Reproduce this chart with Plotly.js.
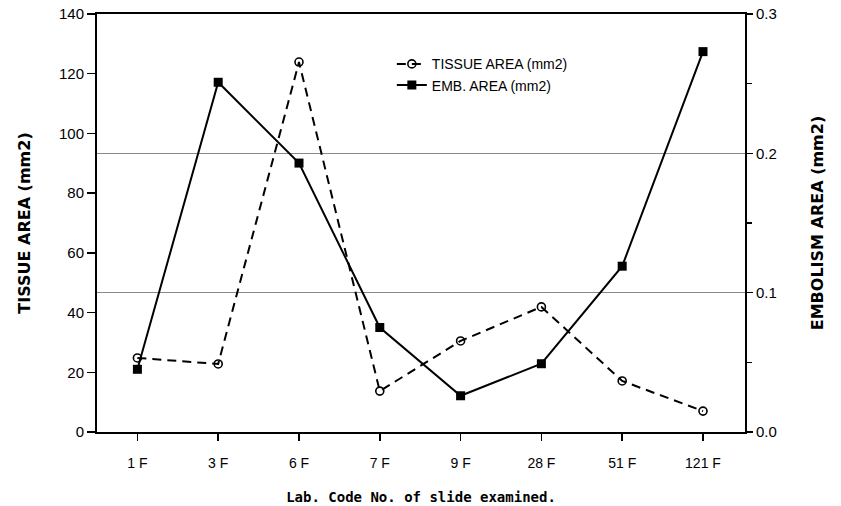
<!DOCTYPE html>
<html>
<head>
<meta charset="utf-8">
<script src="https://cdn.plot.ly/plotly-3.0.1.min.js"></script>
<style>html,body{margin:0;padding:0;background:#fff;}#chart{width:841px;height:506px;}</style>
</head>
<body>
<div id="chart"></div>
<script>
var categories = ["1 F", "3 F", "6 F", "7 F", "9 F", "28 F", "51 F", "121 F"];
var tissueArea = [24.8, 22.8, 123.9, 13.7, 30.5, 41.9, 17.1, 7.0];
var embArea = [0.045, 0.251, 0.193, 0.075, 0.026, 0.049, 0.119, 0.273];
var leftTicks = [0, 20, 40, 60, 80, 100, 120, 140];

var tickFont = {family: "Liberation Sans, Arial, sans-serif", size: 15, color: "#000"};
var titleFont = {family: "DejaVu Sans, sans-serif", size: 16, color: "#000", weight: "bold"};

var traces = [
  {
    x: categories, y: tissueArea, name: "TISSUE AREA (mm2)",
    type: "scatter", mode: "lines+markers", yaxis: "y",
    line: {color: "#000", width: 2, dash: "9px,6px"},
    marker: {symbol: "circle-open", size: 8, color: "#000", line: {width: 1.6, color: "#000"}}
  },
  {
    x: categories, y: embArea, name: "EMB. AREA (mm2)",
    type: "scatter", mode: "lines+markers", yaxis: "y2",
    line: {color: "#000", width: 2},
    marker: {symbol: "square", size: 9, color: "#000"}
  }
];

var layout = {
  width: 841, height: 506,
  margin: {l: 97, r: 96, t: 14, b: 74},
  paper_bgcolor: "#fff", plot_bgcolor: "#fff",
  showlegend: true,
  legend: {
    x: 0.455, y: 0.918, xanchor: "left", yanchor: "top",
    font: {family: "Liberation Sans, Arial, sans-serif", size: 14, color: "#000"},
    bgcolor: "rgba(0,0,0,0)", tracegroupgap: 0
  },
  xaxis: {
    type: "category", range: [-0.5, 7.52],
    showline: true, linecolor: "#000", linewidth: 2, mirror: true,
    ticks: "outside", ticklen: 7, tickwidth: 1.5, tickcolor: "#000",
    ticklabelstandoff: 10,
    showgrid: false, zeroline: false,
    tickfont: {family: "Liberation Sans, Arial, sans-serif", size: 14, color: "#000"},
    title: {text: "Lab. Code No. of slide examined.", font: {family: "DejaVu Sans Mono, monospace", size: 14, color: "#000", weight: "bold"}, standoff: 22}
  },
  yaxis: {
    range: [0, 140], tickvals: leftTicks,
    showline: true, linecolor: "#000", linewidth: 2,
    ticks: "outside", ticklen: 8, tickwidth: 1.5, tickcolor: "#000",
    showgrid: false, zeroline: false,
    tickfont: tickFont,
    title: {text: "TISSUE AREA (mm2)", font: titleFont, standoff: 24}
  },
  yaxis2: {
    overlaying: "y", side: "right", range: [0, 0.3],
    tickmode: "linear", tick0: 0, dtick: 0.1, tickformat: ".1f",
    showline: true, linecolor: "#000", linewidth: 2,
    ticks: "outside", ticklen: 6, tickwidth: 1.5, tickcolor: "#000",
    minor: {dtick: 0.05, tick0: 0, ticks: "outside", ticklen: 5, tickwidth: 1.2, tickcolor: "#000", showgrid: false},
    showgrid: true, gridcolor: "#8a8a8a", gridwidth: 1, zeroline: false,
    tickfont: tickFont,
    title: {text: "EMBOLISM AREA (mm2)", font: titleFont, standoff: 36}
  }
};

Plotly.newPlot("chart", traces, layout, {displayModeBar: false, staticPlot: true});
</script>
</body>
</html>
